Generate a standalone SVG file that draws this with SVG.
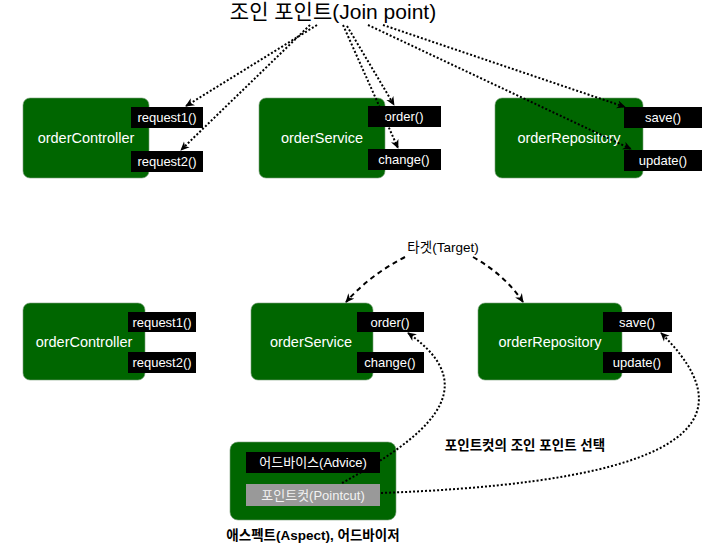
<svg xmlns="http://www.w3.org/2000/svg" width="727" height="545" viewBox="0 0 727 545">
<style>
text{font-family:"Liberation Sans","Noto Sans CJK KR",sans-serif;}
.node{fill:#006600;stroke:#7a9f7a;stroke-width:0.6;}
.m{fill:#000;}
.pc{fill:#999;}
.nl{fill:#fff;font-size:14.5px;text-anchor:middle;}
.ml{fill:#fff;font-size:13px;text-anchor:middle;}
.lbl{fill:#000;font-size:13.5px;text-anchor:middle;}
.b{font-weight:600;}
.dot{fill:none;stroke:#000;stroke-width:2;stroke-dasharray:2 2;}
.dash{fill:none;stroke:#000;stroke-width:2;stroke-dasharray:5 4;}
</style>
<defs>
<marker id="ah" viewBox="0 0 10 10" refX="9" refY="5" markerWidth="9" markerHeight="9" markerUnits="userSpaceOnUse" orient="auto">
<path d="M0,0.5 L10,5 L0,9.5 L3,5 z" fill="#000"/>
</marker>
</defs>
<rect width="727" height="545" fill="#fff"/>

<text id="title" x="333" y="19" style="font-size:21px;text-anchor:middle;fill:#000">조인 포인트(Join point)</text>

<g id="top-orderController">
<rect class="node" x="23" y="98" width="126" height="80" rx="7"/>
<text class="nl" x="86" y="143">orderController</text>
<rect class="m" x="131" y="107" width="72" height="21"/>
<text class="ml" x="167" y="122">request1()</text>
<rect class="m" x="131" y="151" width="72" height="21"/>
<text class="ml" x="167" y="166">request2()</text>
</g>

<g id="top-orderService">
<rect class="node" x="259" y="98" width="126" height="80" rx="7"/>
<text class="nl" x="322" y="143">orderService</text>
<rect class="m" x="368" y="106" width="73" height="21"/>
<text class="ml" x="404" y="121">order()</text>
<rect class="m" x="368" y="149" width="73" height="21"/>
<text class="ml" x="404" y="164">change()</text>
</g>

<g id="top-orderRepository">
<rect class="node" x="495" y="98" width="148" height="80" rx="7"/>
<text class="nl" x="569" y="143">orderRepository</text>
<rect class="m" x="624" y="107" width="78" height="21"/>
<text class="ml" x="663" y="122">save()</text>
<rect class="m" x="624" y="150" width="78" height="21"/>
<text class="ml" x="663" y="165">update()</text>
</g>

<text id="target-label" class="lbl" x="443" y="252">타겟(Target)</text>

<g id="bottom-orderController">
<rect class="node" x="23" y="303" width="122" height="77" rx="7"/>
<text class="nl" x="84" y="347">orderController</text>
<rect class="m" x="128" y="312" width="68" height="20"/>
<text class="ml" x="162" y="326.5">request1()</text>
<rect class="m" x="128" y="352" width="68" height="21"/>
<text class="ml" x="162" y="367">request2()</text>
</g>

<g id="bottom-orderService">
<rect class="node" x="251" y="303" width="122" height="77" rx="7"/>
<text class="nl" x="311" y="347">orderService</text>
<rect class="m" x="357" y="312" width="67" height="20"/>
<text class="ml" x="390" y="326.5">order()</text>
<rect class="m" x="357" y="352" width="67" height="21"/>
<text class="ml" x="390" y="367">change()</text>
</g>

<g id="bottom-orderRepository">
<rect class="node" x="478" y="303" width="144" height="77" rx="7"/>
<text class="nl" x="550" y="347">orderRepository</text>
<rect class="m" x="603" y="312" width="69" height="20"/>
<text class="ml" x="637" y="326.5">save()</text>
<rect class="m" x="603" y="352" width="69" height="21"/>
<text class="ml" x="637" y="367">update()</text>
</g>

<g id="aspect">
<rect class="node" x="230" y="442" width="166" height="78" rx="8"/>
<rect class="m" x="246" y="452" width="134" height="21"/>
<text class="ml" x="313" y="467">어드바이스(Advice)</text>
<rect class="pc" x="246" y="484" width="134" height="22"/>
<text class="ml" x="313" y="499.5" style="fill:#f2f2f2">포인트컷(Pointcut)</text>
<text class="lbl b" x="313" y="540">애스펙트(Aspect), 어드바이저</text>
</g>

<text id="select-label" class="lbl b" x="525" y="450">포인트컷의 조인 포인트 선택</text>

<g id="connectors">
<path class="dot" d="M317,25 L186,106" marker-end="url(#ah)"/>
<path class="dot" d="M310,25 L181,150" marker-end="url(#ah)"/>
<path class="dot" d="M347,26 L394,105" marker-end="url(#ah)"/>
<path class="dot" d="M343,25 Q372,90 398,148" marker-end="url(#ah)"/>
<path class="dot" d="M383,25 L625,107" marker-end="url(#ah)"/>
<path class="dot" d="M368,25 L631,149" marker-end="url(#ah)"/>
<path class="dash" d="M405,257 Q370,275 346,302" marker-end="url(#ah)"/>
<path class="dash" d="M473,257 Q505,275 523,302" marker-end="url(#ah)"/>
<path class="dot" d="M342,483 C420,440 490,390 408,333" marker-end="url(#ah)"/>
<path class="dot" d="M381,493 C600,485 780,450 661,333" marker-end="url(#ah)"/>
</g>
</svg>
